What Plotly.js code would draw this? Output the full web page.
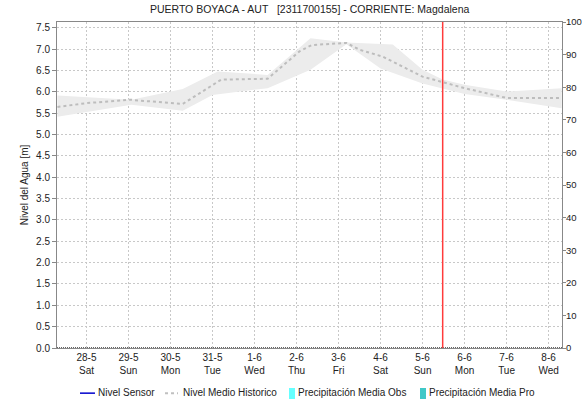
<!DOCTYPE html>
<html>
<head>
<meta charset="utf-8">
<script src="https://cdn.plot.ly/plotly-3.0.1.min.js"></script>
<style>html,body{margin:0;padding:0;background:#fff;}#chart{width:582px;height:401px;}</style>
</head>
<body>
<div id="chart"></div>
<script>
// Historic mean level (m)
const histTimes = ["2022-05-27 07:25","2022-05-28 00:30","2022-05-29 01:40","2022-05-29 03:00","2022-05-30 07:00","2022-05-31 05:00","2022-06-01 07:30","2022-06-02 01:40","2022-06-02 08:40","2022-06-03 04:30","2022-06-03 12:00","2022-06-04 01:10","2022-06-05 00:00","2022-06-05 12:30","2022-06-06 00:00","2022-06-07 00:00","2022-06-08 07:30"];
const histMean  = [5.65,5.74,5.82,5.81,5.72,6.29,6.31,6.95,7.10,7.15,6.99,6.83,6.36,6.21,6.09,5.86,5.86];
// Historic band upper edge
const upperTimes = ["2022-05-27 07:25","2022-05-29 01:40","2022-05-30 07:00","2022-05-31 03:00","2022-06-01 07:30","2022-06-02 08:00","2022-06-03 04:30","2022-06-04 07:00","2022-06-05 00:00","2022-06-05 11:30","2022-06-06 00:00","2022-06-07 00:00","2022-06-08 07:30"];
const upperVals  = [5.92,5.82,6.07,6.48,6.40,7.26,7.16,7.11,6.52,6.29,6.17,6.01,6.09];
// Historic band lower edge
const lowerTimes = ["2022-05-27 07:25","2022-05-29 01:40","2022-05-30 07:00","2022-05-31 00:00","2022-06-01 07:30","2022-06-02 08:00","2022-06-03 04:30","2022-06-04 00:00","2022-06-05 00:00","2022-06-06 00:00","2022-06-07 00:00","2022-06-08 07:30"];
const lowerVals  = [5.42,5.70,5.56,5.93,6.09,6.52,7.12,6.55,6.20,5.95,5.82,5.62];
// Precipitation (zero over period)
const precipTimes = ["2022-05-27 07:10","2022-06-08 07:40"];
const precipVals  = [0,0];
// Tick labels
const tickDates = ["2022-05-28","2022-05-29","2022-05-30","2022-05-31","2022-06-01","2022-06-02","2022-06-03","2022-06-04","2022-06-05","2022-06-06","2022-06-07","2022-06-08"];
const tickLabels = ["28-5<br>Sat","29-5<br>Sun","30-5<br>Mon","31-5<br>Tue","1-6<br>Wed","2-6<br>Thu","3-6<br>Fri","4-6<br>Sat","5-6<br>Sun","6-6<br>Mon","7-6<br>Tue","8-6<br>Wed"];
const legendNames = ["Nivel Sensor","Nivel Medio Historico","Precipitación Media Obs","Precipitación Media Pro"];
const nowTime = "2022-06-05 11:30";
const xRange = ["2022-05-27 07:10","2022-06-08 07:40"];

const bandX = upperTimes.concat(lowerTimes.slice().reverse());
const bandY = upperVals.concat(lowerVals.slice().reverse());

const traces = [
  {x: bandX, y: bandY, type:'scatter', mode:'lines', fill:'toself', fillcolor:'rgb(236,236,236)', line:{width:0}, hoverinfo:'skip'},
  {x: histTimes, y: histMean, type:'scatter', mode:'lines', name:legendNames[1], line:{color:'#bdbdbd', width:2, dash:'3px,3px'}},
  {x: precipTimes, y: precipVals, type:'scatter', mode:'lines', yaxis:'y2', name:legendNames[2], line:{color:'#333', width:1.5, dash:'1px,1px'}, hoverinfo:'skip'}
];

// manual legend (paper coordinates)
const LY = -0.1365;
const shapes = [
  {type:'line', xref:'x', yref:'paper', x0:nowTime, x1:nowTime, y0:0, y1:1, line:{color:'#ff3b3b', width:1.5}},
  {type:'line', xref:'paper', yref:'paper', x0:0.0455, x1:0.0752, y0:LY-0.002, y1:LY-0.002, line:{color:'#0000cc', width:1.5}},
  {type:'line', xref:'paper', yref:'paper', x0:0.2139, x1:0.2396, y0:LY-0.002, y1:LY-0.002, line:{color:'#c0c0c0', width:2, dash:'3px,3px'}},
  {type:'rect', xref:'paper', yref:'paper', x0:0.4594, x1:0.4713, y0:-0.1564, y1:-0.1227, line:{width:0}, fillcolor:'#66ffff'},
  {type:'rect', xref:'paper', yref:'paper', x0:0.7188, x1:0.7307, y0:-0.1564, y1:-0.1227, line:{width:0}, fillcolor:'#40c8c8'}
];
const legX = [0.0772, 0.2455, 0.4732, 0.7327];
const annotations = legendNames.map((t,i)=>({text:t, xref:'paper', yref:'paper', x:legX[i], y:LY, xanchor:'left', yanchor:'middle', showarrow:false, font:{size:10, color:'#222'}}));

const layout = {
  width:582, height:401,
  margin:{l:57, r:20, t:22, b:53},
  paper_bgcolor:'#fff', plot_bgcolor:'#fff',
  font:{family:'"Liberation Sans", Arial, sans-serif', size:10, color:'#222'},
  title:{text:'PUERTO BOYACA - AUT   [2311700155] - CORRIENTE: Magdalena', font:{size:10.5, color:'#222'}, x:0.532, xanchor:'center', y:0.985, yanchor:'top'},
  showlegend:false,
  xaxis:{type:'date', range:xRange, tickmode:'array', tickvals:tickDates, ticktext:tickLabels, ticks:'', showgrid:true, gridcolor:'#c8c8c8', griddash:'2px,2px', gridwidth:1, showline:true, linecolor:'#888', linewidth:1, mirror:true, zeroline:false, tickfont:{size:10, color:'#222'}, automargin:false},
  yaxis:{range:[0,7.64], tickmode:'linear', tick0:0, dtick:0.5, tickformat:'.1f', ticks:'outside', ticklen:4, tickcolor:'#888', showgrid:true, gridcolor:'#c8c8c8', griddash:'2px,2px', gridwidth:1, showline:true, linecolor:'#888', linewidth:1, zeroline:false, title:{text:'Nivel del Agua [m]', font:{size:10, color:'#222'}, standoff:5}, tickfont:{size:10, color:'#222'}, automargin:false},
  yaxis2:{overlaying:'y', side:'right', range:[0,100], tickmode:'linear', tick0:0, dtick:10, ticks:'outside', ticklen:3, tickcolor:'#888', showgrid:false, showline:true, linecolor:'#888', linewidth:1, zeroline:false, tickfont:{size:9.5, color:'#222'}, ticklabelstandoff:-2, automargin:false},
  shapes: shapes,
  annotations: annotations
};

Plotly.newPlot('chart', traces, layout, {displayModeBar:false, staticPlot:true});
</script>
</body>
</html>
